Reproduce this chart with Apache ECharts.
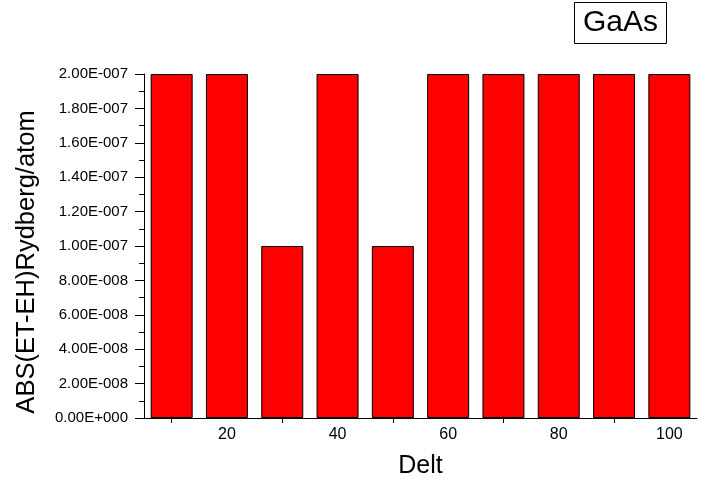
<!DOCTYPE html>
<html>
<head>
<meta charset="utf-8">
<style>
  html, body { margin: 0; padding: 0; background: #fff; }
  #chart { width: 705px; height: 480px; }
</style>
<script src="https://cdn.jsdelivr.net/npm/echarts@6/dist/echarts.min.js"></script>
</head>
<body>
<div id="chart"></div>
<script>
// Delt values and the absolute energy difference for each
const delt = [10, 20, 30, 40, 50, 60, 70, 80, 90, 100];
const absDiff = [2e-7, 2e-7, 1e-7, 2e-7, 1e-7, 2e-7, 2e-7, 2e-7, 2e-7, 2e-7];
const xLabelValues = [20, 40, 60, 80, 100];
const xTickValues = [10, 30, 50, 70, 90];

const FONT = '"Liberation Sans", Arial, sans-serif';

// Scientific notation in the style 2.00E-007
function sci(v) {
  if (Math.abs(v) < 1e-20) return '0.00E+000';
  let e = Math.floor(Math.log10(Math.abs(v)));
  let m = v / Math.pow(10, e);
  let ms = m.toFixed(2);
  if (parseFloat(ms) >= 10) { e += 1; ms = (v / Math.pow(10, e)).toFixed(2); }
  return ms + 'E' + (e < 0 ? '-' : '+') + String(Math.abs(e)).padStart(3, '0');
}

const chart = echarts.init(document.getElementById('chart'), null, { renderer: 'canvas' });
chart.setOption({
  animation: false,
  backgroundColor: '#fff',
  title: {
    text: 'GaAs',
    left: 574,
    top: 2,
    padding: [6, 9, 6, 9],
    borderColor: '#000',
    borderWidth: 1,
    textStyle: { fontFamily: FONT, fontSize: 30, fontWeight: 'normal', color: '#000' }
  },
  grid: { left: 144, right: 8, top: 74, bottom: 62, outerBoundsMode: 'none', containLabel: false },
  xAxis: {
    type: 'value',
    min: 5,
    max: 105,
    interval: 5,
    name: 'Delt',
    nameLocation: 'middle',
    nameGap: 36,
    nameTextStyle: { fontFamily: FONT, fontSize: 25, color: '#000' },
    axisLine: { show: true, lineStyle: { color: '#000', width: 1 } },
    axisTick: { show: true, customValues: xTickValues, length: 5, lineStyle: { color: '#000' } },
    axisLabel: { customValues: xLabelValues, fontFamily: FONT, fontSize: 16, color: '#000', margin: 9 },
    splitLine: { show: false }
  },
  yAxis: {
    type: 'value',
    min: 0,
    max: 2e-7,
    interval: 2e-8,
    name: 'ABS(ET-EH)Rydberg/atom',
    nameLocation: 'middle',
    nameGap: 104,
    nameTextStyle: { fontFamily: FONT, fontSize: 25.5, color: '#000', padding: [0, 32, 0, 0] },
    axisLine: { show: true, lineStyle: { color: '#000', width: 1 } },
    axisTick: { show: true, length: 9, lineStyle: { color: '#000' } },
    minorTick: { show: true, splitNumber: 2, length: 5, lineStyle: { color: '#000' } },
    axisLabel: { formatter: sci, fontFamily: FONT, fontSize: 15, color: '#000', margin: 16 },
    splitLine: { show: false }
  },
  series: [{
    type: 'bar',
    data: delt.map((d, i) => [d, absDiff[i]]),
    barWidth: 42,
    itemStyle: { color: '#ff0000', borderColor: '#000', borderWidth: 1 }
  }]
});
</script>
</body>
</html>
